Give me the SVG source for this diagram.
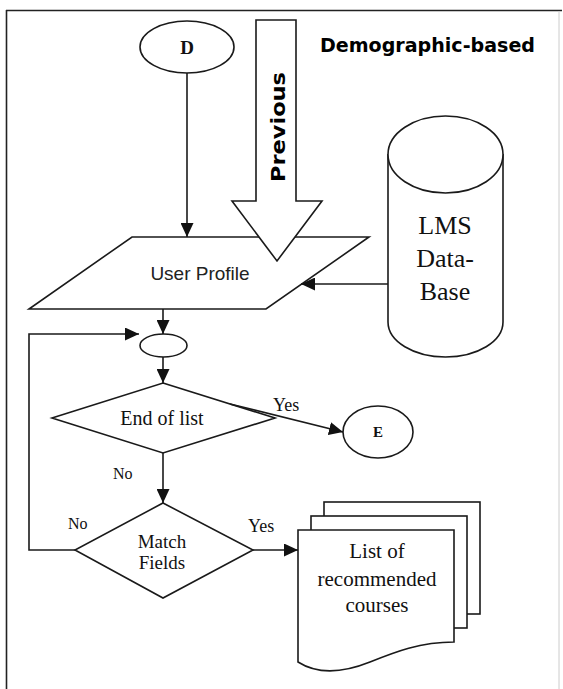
<svg xmlns="http://www.w3.org/2000/svg" width="563" height="689" viewBox="0 0 563 689">
  <defs>
    <marker id="arr" markerUnits="userSpaceOnUse" markerWidth="15" markerHeight="13" refX="14" refY="6.5" orient="auto">
      <path d="M0,0 L14,6.5 L0,13 z" fill="#111"/>
    </marker>
    <style>
      .shape { fill: #fff; stroke: #1a1a1a; stroke-width: 1.6; }
      .conn { fill: none; stroke: #1a1a1a; stroke-width: 1.6; }
      .serif { font-family: "Liberation Serif", "Times New Roman", serif; fill: #111; }
      .sans { font-family: "Liberation Sans", Arial, sans-serif; fill: #222; }
      .bold { font-family: "DejaVu Sans", Verdana, sans-serif; font-weight: bold; fill: #000; }
      .mid { text-anchor: middle; }
    </style>
  </defs>
  <rect x="0" y="0" width="563" height="689" fill="#fff"/>
  <g id="frame">
    <line x1="6" y1="10.5" x2="562" y2="10.5" stroke="#222" stroke-width="1.6"/>
    <line x1="6.5" y1="10" x2="6.5" y2="689" stroke="#222" stroke-width="1.6"/>
    <line x1="559" y1="11" x2="559" y2="689" stroke="#ccc" stroke-width="1"/>
  </g>
  <g id="title">
    <text class="bold" x="320" y="52" font-size="19" textLength="215" lengthAdjust="spacingAndGlyphs">Demographic-based</text>
  </g>
  <g id="nodeD">
    <ellipse class="shape" cx="187" cy="47" rx="47" ry="26"/>
    <text class="serif mid" x="187" y="54" font-size="19" font-weight="bold">D</text>
  </g>
  <g id="userProfile">
    <polygon class="shape" points="132,237 369,237 266,309 29,309"/>
    <text class="sans mid" x="200" y="280" font-size="19">User Profile</text>
  </g>
  <g id="previous">
    <polygon class="shape" points="256,20 296,20 296,201 322,201 277,261 232,201 256,201"/>
    <text class="bold" transform="translate(285,182) rotate(-90)" font-size="19" textLength="110" lengthAdjust="spacingAndGlyphs">Previous</text>
  </g>
  <g id="lmsDatabase">
    <path class="shape" d="M388,154 L388,322 A57.5,35 0 0 0 503,322 L503,154"/>
    <ellipse class="shape" cx="445.5" cy="154.5" rx="57.5" ry="38.5"/>
    <text class="serif mid" x="445" y="234" font-size="26">LMS</text>
    <text class="serif mid" x="445" y="267" font-size="26">Data-</text>
    <text class="serif mid" x="445" y="300" font-size="26">Base</text>
  </g>
  <g id="loopNode">
    <ellipse class="shape" cx="163.5" cy="345.5" rx="23.5" ry="11.5"/>
  </g>
  <g id="endOfList">
    <polygon class="shape" points="163,383 275,418 163,453 52,418"/>
    <text class="serif mid" x="162" y="425" font-size="20">End of list</text>
  </g>
  <g id="nodeE">
    <ellipse class="shape" cx="378" cy="432" rx="35" ry="26"/>
    <text class="serif mid" x="378" y="437" font-size="15" font-weight="bold">E</text>
  </g>
  <g id="matchFields">
    <polygon class="shape" points="163,503 253,550 163,598 75,550"/>
    <text class="serif mid" x="162" y="548" font-size="19">Match</text>
    <text class="serif mid" x="162" y="569" font-size="19">Fields</text>
  </g>
  <g id="courses">
    <rect class="shape" x="324" y="502" width="156" height="112"/>
    <rect class="shape" x="311" y="516" width="156" height="112"/>
    <path class="shape" d="M298,530 H454 V642 C420,642 395,652 370,662 C345,672 320,676 298,662 Z"/>
    <text class="serif mid" x="377" y="558" font-size="21">List of</text>
    <text class="serif mid" x="377" y="586" font-size="21">recommended</text>
    <text class="serif mid" x="377" y="612" font-size="21">courses</text>
  </g>
  <g id="connectors">
    <path class="conn" d="M187,73 L187,237" marker-end="url(#arr)"/>
    <path class="conn" d="M163,309 L163,334" marker-end="url(#arr)"/>
    <path class="conn" d="M163,357 L163,383" marker-end="url(#arr)"/>
    <path class="conn" d="M388,284 L301,284" marker-end="url(#arr)"/>
    <path class="conn" d="M230,404 L343,432" marker-end="url(#arr)"/>
    <path class="conn" d="M163,453 L163,503" marker-end="url(#arr)"/>
    <path class="conn" d="M253,550 L298,550" marker-end="url(#arr)"/>
    <path class="conn" d="M75,550 L29,550 L29,334 L139,334" marker-end="url(#arr)"/>
    <text class="serif" x="273" y="411" font-size="18">Yes</text>
    <text class="serif" x="113" y="479" font-size="16">No</text>
    <text class="serif" x="68" y="529" font-size="16">No</text>
    <text class="serif" x="248" y="532" font-size="18">Yes</text>
  </g>
</svg>
